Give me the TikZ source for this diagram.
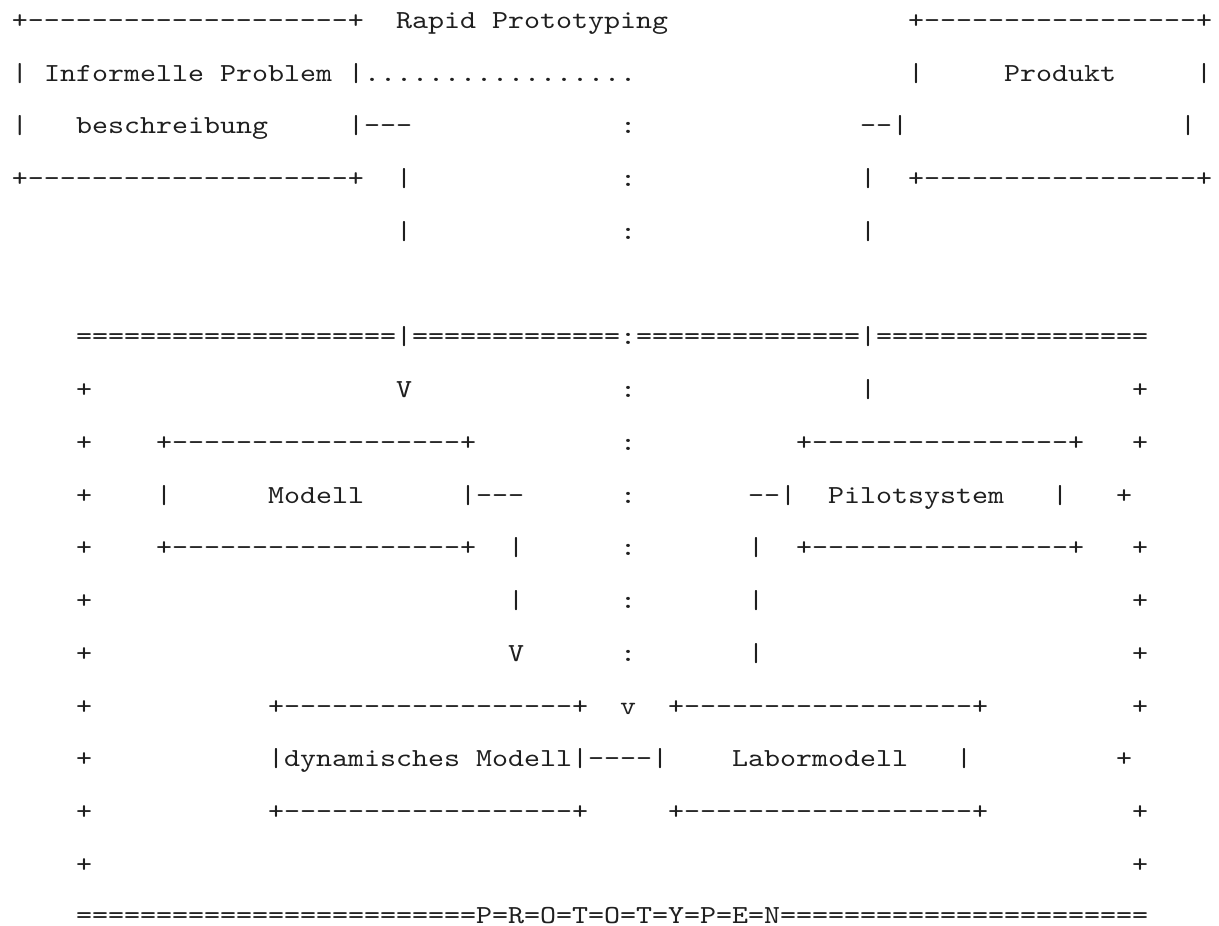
\documentclass[tikz,border=0pt]{standalone}
\usepackage{fontspec}
% typewriter face, widened so that one character cell is 16px (12pt)
\newfontfamily\asciifont{lmmono10-regular.otf}[FakeStretch=1.17216,Ligatures=TeXOff]

% one run of characters, placed by column (#3) and line (#4)
\newcommand\asciicell[5][]{\node[txt,#1] (#2) at ({12+16*(#3)},{28.25+52.75*((#4)-1)}) {#5};}

\begin{document}
\begin{tikzpicture}[x=0.75pt,y=-0.75pt,
  txt/.style={anchor=base west,inner sep=0pt,outer sep=0pt,text=black!88,
    font={\fontsize{19.5pt}{23pt}\asciifont}},
  lastline/.style={yshift=1.2pt}]
\fill[white] (0,0) rectangle (1219,925);
\useasboundingbox (0,0) rectangle (1219,925);

% ---- top: problem description and product
\asciicell{inTop}{0}{1}{+--------------------+}
\asciicell{titleA}{24}{1}{Rapid}
\asciicell{titleB}{30}{1}{Prototyping}
\asciicell{outTop}{56}{1}{+-----------------+}

\asciicell{inLa}{0}{2}{|}
\asciicell{inTxtA}{2}{2}{Informelle}
\asciicell{inTxtB}{13}{2}{Problem}
\asciicell{inRa}{21}{2}{|}
\asciicell{dots}{22}{2}{.................}
\asciicell{outLa}{56}{2}{|}
\asciicell{outTxt}{62}{2}{Produkt}
\asciicell{outRa}{74}{2}{|}

\asciicell{inLb}{0}{3}{|}
\asciicell{inTxtC}{4}{3}{beschreibung}
\asciicell{inRb}{21}{3}{|---}
\asciicell{colA}{38}{3}{:}
\asciicell{outLb}{53}{3}{--|}
\asciicell{outRb}{73}{3}{|}

\asciicell{inBot}{0}{4}{+--------------------+}
\asciicell{downA}{24}{4}{|}
\asciicell{colB}{38}{4}{:}
\asciicell{upA}{53}{4}{|}
\asciicell{outBot}{56}{4}{+-----------------+}

\asciicell{downB}{24}{5}{|}
\asciicell{colC}{38}{5}{:}
\asciicell{upB}{53}{5}{|}

% ---- frame of the prototype area
\asciicell{topA}{4}{7}{====================}
\asciicell{topB}{24}{7}{|}
\asciicell{topC}{25}{7}{=============}
\asciicell{topD}{38}{7}{:}
\asciicell{topE}{39}{7}{==============}
\asciicell{topF}{53}{7}{|}
\asciicell{topG}{54}{7}{=================}

\asciicell{lA}{4}{8}{+}
\asciicell{arrA}{24}{8}{V}
\asciicell{colD}{38}{8}{:}
\asciicell{upC}{53}{8}{|}
\asciicell{rA}{70}{8}{+}

\asciicell{lB}{4}{9}{+}
\asciicell{modTop}{9}{9}{+------------------+}
\asciicell{colE}{38}{9}{:}
\asciicell{pilTop}{49}{9}{+----------------+}
\asciicell{rB}{70}{9}{+}

\asciicell{lC}{4}{10}{+}
\asciicell{modL}{9}{10}{|}
\asciicell{modTxt}{16}{10}{Modell}
\asciicell{modR}{28}{10}{|---}
\asciicell{colF}{38}{10}{:}
\asciicell{pilL}{46}{10}{--|}
\asciicell{pilTxt}{51}{10}{Pilotsystem}
\asciicell{pilR}{65}{10}{|}
\asciicell{rC}{69}{10}{+}

\asciicell{lD}{4}{11}{+}
\asciicell{modBot}{9}{11}{+------------------+}
\asciicell{downC}{31}{11}{|}
\asciicell{colG}{38}{11}{:}
\asciicell{upD}{46}{11}{|}
\asciicell{pilBot}{49}{11}{+----------------+}
\asciicell{rD}{70}{11}{+}

\asciicell{lE}{4}{12}{+}
\asciicell{downD}{31}{12}{|}
\asciicell{colH}{38}{12}{:}
\asciicell{upE}{46}{12}{|}
\asciicell{rE}{70}{12}{+}

\asciicell{lF}{4}{13}{+}
\asciicell{arrB}{31}{13}{V}
\asciicell{colI}{38}{13}{:}
\asciicell{upF}{46}{13}{|}
\asciicell{rF}{70}{13}{+}

\asciicell{lG}{4}{14}{+}
\asciicell{dynTop}{16}{14}{+------------------+}
\asciicell{arrC}{38}{14}{v}
\asciicell{labTop}{41}{14}{+------------------+}
\asciicell{rG}{70}{14}{+}

\asciicell{lH}{4}{15}{+}
\asciicell{dynTxtA}{16}{15}{|dynamisches}
\asciicell{dynTxtB}{29}{15}{Modell|----|}
\asciicell{labTxt}{45}{15}{Labormodell}
\asciicell{labR}{59}{15}{|}
\asciicell{rH}{69}{15}{+}

\asciicell{lI}{4}{16}{+}
\asciicell{dynBot}{16}{16}{+------------------+}
\asciicell{labBot}{41}{16}{+------------------+}
\asciicell{rI}{70}{16}{+}

\asciicell{lJ}{4}{17}{+}
\asciicell{rJ}{70}{17}{+}

\asciicell[lastline]{botA}{4}{18}{=========================}
\asciicell[lastline]{botB}{29}{18}{P=R=O=T=O=T=Y=P=E=N}
\asciicell[lastline]{botC}{48}{18}{=======================}
\end{tikzpicture}
\end{document}
